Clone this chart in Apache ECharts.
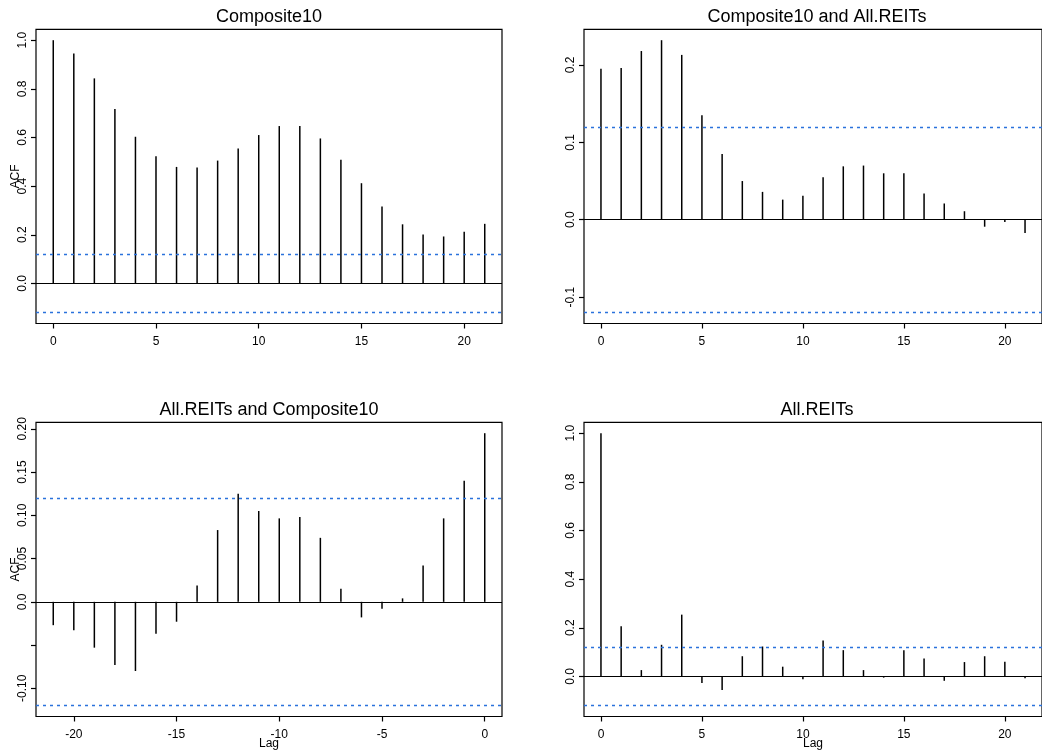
<!DOCTYPE html>
<html><head><meta charset="utf-8">
<script src="https://cdn.jsdelivr.net/npm/echarts@6/dist/echarts.min.js"></script>
<style>html,body{margin:0;padding:0;background:#fff}#c{width:1042px;height:755px}</style>
</head><body><div id="c"></div>
<script>
// ---- data ----
const lagsPos = [0,1,2,3,4,5,6,7,8,9,10,11,12,13,14,15,16,17,18,19,20,21];
const lagsNeg = [-21,-20,-19,-18,-17,-16,-15,-14,-13,-12,-11,-10,-9,-8,-7,-6,-5,-4,-3,-2,-1,0];
const acfComposite10 = [1.0,0.945,0.843,0.717,0.603,0.523,0.479,0.477,0.505,0.555,0.610,0.647,0.647,0.596,0.508,0.412,0.316,0.243,0.201,0.193,0.212,0.245];
const ccfCompositeReits = [0.195,0.196,0.218,0.232,0.213,0.135,0.085,0.050,0.036,0.026,0.031,0.055,0.069,0.070,0.060,0.060,0.034,0.021,0.011,-0.009,-0.003,-0.017];
const ccfReitsComposite = [-0.027,-0.033,-0.053,-0.073,-0.080,-0.037,-0.023,0.019,0.083,0.125,0.105,0.0965,0.098,0.074,0.015,-0.018,-0.008,0.004,0.042,0.0965,0.140,0.195];
const acfReits = [1.0,0.206,0.026,0.130,0.254,-0.027,-0.056,0.083,0.123,0.040,-0.012,0.148,0.108,0.026,-0.005,0.108,0.074,-0.018,0.059,0.083,0.060,-0.008];
const confBound = 0.12;
const titles = ['Composite10','Composite10 and All.REITs','All.REITs and Composite10','All.REITs'];
const xTicksPos = [0,5,10,15,20];
const xTicksNeg = [-20,-15,-10,-5,0];
const yTicksAcf = [0,0.2,0.4,0.6,0.8,1.0];
const yTicksCcf1 = [-0.1,0,0.1,0.2];
const yTicksCcf2 = [-0.1,-0.05,0,0.05,0.1,0.15,0.2];
const yLabelsCcf2 = [-0.1,0,0.05,0.1,0.15,0.2];

// ---- layout ----
const panels = [
  {left:36, top:29.3, lags:lagsPos, vals:acfComposite10, xt:xTicksPos, yt:yTicksAcf, yl:yTicksAcf, fmt:v=>v.toFixed(1), acf:true, lag:false},
  {left:584, top:29.3, lags:lagsPos, vals:ccfCompositeReits, xt:xTicksPos, yt:yTicksCcf1, yl:yTicksCcf1, fmt:v=>v.toFixed(1), acf:false, lag:false},
  {left:36, top:422.3, lags:lagsNeg, vals:ccfReitsComposite, xt:xTicksNeg, yt:yTicksCcf2, yl:yLabelsCcf2, fmt:v=>Math.abs(v)<1e-9?'0.0':v.toFixed(2), acf:true, lag:true},
  {left:584, top:422.3, lags:lagsPos, vals:acfReits, xt:xTicksPos, yt:yTicksAcf, yl:yTicksAcf, fmt:v=>v.toFixed(1), acf:false, lag:true}
];
const W = 466, H = 294.2;
const font = 'Liberation Sans, Arial, Helvetica, sans-serif';

const grid=[], xAxis=[], yAxis=[], series=[], title=[];
panels.forEach((p,i)=>{
  const xmin = Math.min(...p.lags), xmax = Math.max(...p.lags);
  const xr = (xmax-xmin)*0.04;
  const ymin = Math.min(-confBound, ...p.vals), ymax = Math.max(confBound, ...p.vals);
  const yr = (ymax-ymin)*0.04;
  grid.push({left:p.left, top:p.top, width:W, height:H, show:true, borderColor:'#000', borderWidth:1.2, backgroundColor:'transparent'});
  xAxis.push({type:'value', gridIndex:i, position:'bottom', min:xmin-xr, max:xmax+xr,
    axisLine:{show:false, onZero:false}, splitLine:{show:false},
    axisTick:{show:true, customValues:p.xt, length:5, lineStyle:{color:'#000', width:1.2}},
    axisLabel:{customValues:p.xt, margin:12, fontSize:12, color:'#000', fontFamily:font, formatter:v=>String(v)},
    name:p.lag?'Lag':'', nameLocation:'middle', nameGap:21, nameMoveOverlap:false,
    nameTextStyle:{fontSize:12, color:'#000', fontFamily:font}});
  yAxis.push({type:'value', gridIndex:i, position:'left', min:ymin-yr, max:ymax+yr,
    axisLine:{show:false, onZero:false}, splitLine:{show:false},
    axisTick:{show:true, customValues:p.yt, length:5, lineStyle:{color:'#000', width:1.2}},
    axisLabel:{customValues:p.yl, rotate:90, margin:7, fontSize:12, color:'#000', fontFamily:font, formatter:p.fmt},
    name:p.acf?'ACF':'', nameLocation:'middle', nameRotate:90, nameGap:14, nameMoveOverlap:false,
    nameTextStyle:{fontSize:12, color:'#000', fontFamily:font}});
  series.push({type:'custom', xAxisIndex:i, yAxisIndex:i, silent:true,
    data:p.lags.map((l,k)=>[l,p.vals[k]]),
    renderItem:(params, api)=>{
      const a = api.coord([api.value(0),0]), b = api.coord([api.value(0),api.value(1)]);
      return {type:'line', shape:{x1:a[0],y1:a[1],x2:b[0],y2:b[1]}, style:{stroke:'#000', lineWidth:1.5}};
    }});
  series.push({type:'line', xAxisIndex:i, yAxisIndex:i, data:[], silent:true, symbol:'none',
    markLine:{silent:true, symbol:['none','none'], label:{show:false}, animation:false,
      data:[
        {yAxis:0, lineStyle:{color:'#000', width:1.2, type:'solid'}},
        {yAxis:confBound, lineStyle:{color:'#2a72dc', width:1.3, type:[3,4]}},
        {yAxis:-confBound, lineStyle:{color:'#2a72dc', width:1.3, type:[3,4]}}
      ]}});
  title.push({text:titles[i], left:p.left+W/2, top:p.top-12.5, textAlign:'center', textVerticalAlign:'middle', padding:0,
    textStyle:{fontSize:18, fontWeight:'normal', color:'#000', fontFamily:font}});
});

const chart = echarts.init(document.getElementById('c'), null, {renderer:'canvas'});
chart.setOption({animation:false, backgroundColor:'#fff', title, grid, xAxis, yAxis, series});
</script></body></html>
